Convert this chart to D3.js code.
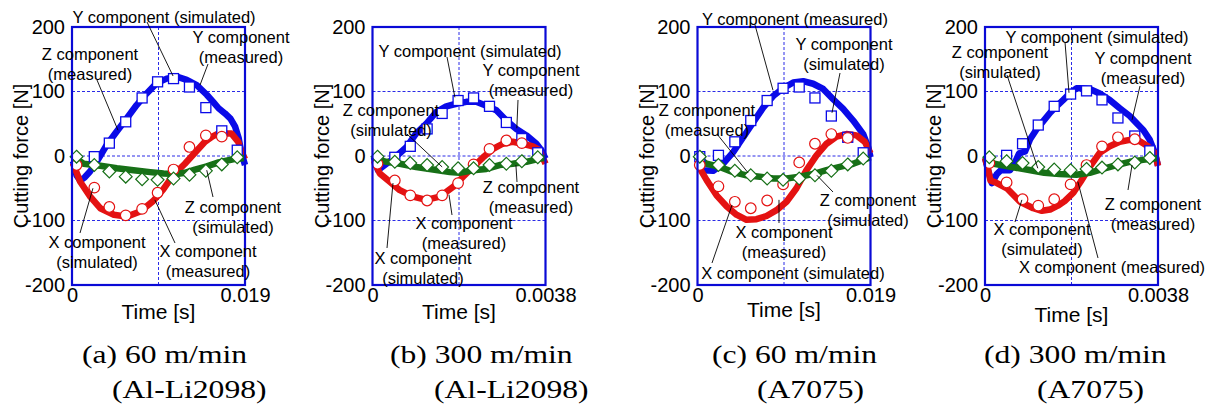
<!DOCTYPE html>
<html>
<head>
<meta charset="utf-8">
<script src="https://cdn.jsdelivr.net/npm/d3@7"></script>
<style>
  html, body { margin: 0; padding: 0; background: #fff; }
  svg { display: block; }
</style>
</head>
<body>
<svg id="chart" width="1211" height="406"></svg>
<script>
// ---------- data ----------
const periodsMs = [19, 3.8, 19, 3.8];
const xTickLabels = [["0", "0.019"], ["0", "0.0038"], ["0", "0.019"], ["0", "0.0038"]];
const yTickValues = [-200, -100, 0, 100, 200];
const yGridValues = [-100, 0, 100];
const captionLine1 = ["(a) 60 m/min", "(b) 300 m/min", "(c) 60 m/min", "(d) 300 m/min"];
const captionLine2 = ["(Al-Li2098)", "(Al-Li2098)", "(A7075)", "(A7075)"];

// simulated forces [N] at sample times [ms]
const simTimeA = [0.5, 2.45, 4.1, 5.9, 7.7, 9.4, 11.15, 12.9, 14.7, 16.45, 18.15];
const simYA = [null, -1, 20, 53, 90, 115, 120, 107, 75, 39, 9];
const simXA = [-14, -49, -79, -92, -82, -57, -21, 14, 32, 30, null];
const simZA = [-1, -14, -24, -32, -36, -37, -35, -29, -23, -13, -2];

const simTimeB = [0.11, 0.49, 0.83, 1.2, 1.53, 1.88, 2.22, 2.57, 2.94, 3.28, 3.63];
const simYB = [null, -2, 15, 42, 66, 86, 90, 77, 52, 27, 5];
const simXB = [-12, -38, -61, -69, -61, -42, -13, 11, 24, 20, null];
const simZB = [-1, -9, -11, -14, -17, -19, -19, -14, -12, -8, -2];

const simTimeC = [0.25, 2.3, 4.1, 5.85, 7.65, 9.4, 11.17, 12.9, 14.7, 16.5, 18.2];
const simYC = [-1, 1, 22, 55, 86, 105, 107, 90, 62, 29, 5];
const simXC = [-14, -47, -71, -81, -69, -44, -10, 19, 34, 28, null];
const simZC = [-1, -14, -23, -30, -35, -37, -35, -30, -23, -13, -4];

const simTimeD = [0.095, 0.475, 0.825, 1.17, 1.52, 1.88, 2.23, 2.57, 2.92, 3.29, 3.62];
const simYD = [null, 1, 19, 48, 77, 96, 101, 87, 59, 31, 8];
const simXD = [-11, -41, -67, -77, -67, -44, -14, 15, 29, 26, null];
const simZD = [-2, -8, -11, -17, -21, -22, -20, -18, -13, -10, -3];

// measured forces as [time ms, force N]
const measYA = [[0.11,-8],[0.5,-30],[0.9,-38],[1.4,-33],[1.98,-24],[2.71,-9],[3.81,17],[4.91,38],[6.0,58],[7.1,79],[8.2,97],[9.3,113],[10.4,120],[11.5,123],[12.6,118],[13.7,110],[14.8,95],[15.5,84],[16.1,74],[16.8,66],[17.4,58],[17.9,46],[18.3,28],[18.6,5],[19.0,-14]];
const measXA = [[0.11,-11],[0.9,-40],[2.0,-63],[3.1,-81],[4.6,-91],[6.0,-94],[7.5,-86],[8.9,-70],[10.0,-52],[11.1,-30],[12.4,-12],[13.5,5],[14.6,22],[15.4,30],[16.1,35],[17.5,35],[18.26,22],[18.6,7],[19.0,-5]];
const measZA = [[0.11,-1],[1.28,-12],[3.11,-15],[4.93,-19],[6.76,-22],[8.59,-25],[10.05,-27],[11.51,-28],[12.4,-26],[13.5,-21],[14.8,-16],[16.1,-10],[17.7,-5],[19.0,-3]];

const measYB = [[0.03,-2],[0.12,-22],[0.31,-12],[0.53,0],[0.75,14],[0.96,35],[1.18,50],[1.40,68],[1.62,77],[1.84,81],[2.06,84],[2.28,84],[2.50,78],[2.72,71],[2.94,55],[3.16,42],[3.38,32],[3.60,19],[3.71,9],[3.80,-4]];
const measXB = [[0.03,-7],[0.16,-27],[0.38,-40],[0.60,-53],[0.89,-63],[1.18,-68],[1.48,-63],[1.77,-48],[1.99,-32],[2.21,-17],[2.43,-2],[2.65,11],[2.86,19],[3.08,22],[3.30,19],[3.52,15],[3.67,9],[3.80,-12]];
const measZB = [[0.03,-4],[0.31,-9],[0.60,-12],[0.96,-17],[1.33,-21],[1.70,-25],[1.91,-26],[2.21,-22],[2.50,-20],[2.79,-14],[3.08,-12],[3.38,-9],[3.67,-4],[3.80,-3]];

const measYC = [[0.15,-12],[0.62,-22],[1.72,-23],[2.82,-12],[3.92,6],[5.02,29],[6.11,52],[7.21,75],[8.31,93],[9.41,105],[10.51,114],[11.61,116],[12.70,112],[13.80,104],[14.90,88],[16.00,73],[17.10,55],[18.20,34],[18.74,14],[19.0,-2]];
const measXC = [[0.15,-17],[0.99,-37],[2.09,-61],[3.19,-78],[4.28,-91],[5.38,-99],[6.48,-98],[7.58,-93],[8.68,-84],[9.78,-71],[10.87,-50],[11.97,-22],[13.07,1],[14.17,19],[15.27,30],[16.36,34],[17.46,32],[18.38,22],[19.0,4]];
const measZC = [[0.15,-4],[0.99,-12],[2.45,-17],[3.92,-25],[5.38,-30],[6.85,-32],[8.31,-35],[9.78,-35],[11.24,-32],[12.70,-28],[14.17,-22],[15.63,-17],[17.10,-12],[18.20,-6],[19.0,-2]];

const measYD = [[0,-3],[0.06,-20],[0.15,-42],[0.26,-28],[0.35,-22],[0.55,-22],[0.66,-10],[0.75,4],[0.88,7],[0.99,26],[1.13,41],[1.28,54],[1.43,67],[1.57,77],[1.72,87],[1.86,97],[2.01,105],[2.16,105],[2.30,104],[2.52,97],[2.74,87],[2.96,74],[3.18,62],[3.30,53],[3.48,40],[3.62,25],[3.73,5],[3.80,-15]];
const measXD = [[0,-3],[0.05,-15],[0.12,-38],[0.26,-42],[0.48,-50],[0.62,-60],[0.77,-71],[1.06,-81],[1.25,-85],[1.43,-83],[1.60,-77],[1.75,-70],[1.94,-57],[2.10,-40],[2.30,-17],[2.52,5],[2.74,15],[2.96,22],[3.18,25],[3.40,23],[3.58,15],[3.73,5],[3.80,-15]];
const measZD = [[0,-2],[0.2,-12],[0.5,-16],[0.91,-21],[1.3,-26],[1.64,-28],[2.01,-29],[2.3,-26],[2.59,-20],[2.89,-14],[3.18,-9],[3.47,-6],[3.80,-3]];

// ---------- layout ----------
const W = 1211, H = 406;
const panelLeft = [72, 372.5, 697.5, 985];
const boxTop = 27, boxW = 173, boxH = 258;
const timeLabelY = [319, 319, 317, 322];
const captionX1 = [82, 390, 712, 984];
const captionX2 = [112, 434, 757, 1037];

const BLUE = "#0a0ae8", RED = "#e41212", GREEN = "#177017", FRAME = "#0a0ad6", GRID = "#2b2be6";
const SANS = "'Liberation Sans', Arial, sans-serif";
const SERIF = "'Liberation Serif', 'Times New Roman', serif";

// callouts: text centre (px from panel corner), leader start (px), leader tip (ms, N)
const callouts = [
  [
    { lines: ["Y component (simulated)"], tx: 92, ty: -10, lx: 75, ly: -5, t: 11.1, v: 124 },
    { lines: ["Y component", "(measured)"], tx: 169, ty: 10, lx: 136, ly: 37, t: 14.06, v: 110 },
    { lines: ["Z component", "(measured)"], tx: 18, ty: 27, lx: 25, ly: 53, t: 5.05, v: 40 },
    { lines: ["Z component", "(simulated)"], tx: 161, ty: 180, lx: 141, ly: 170, t: 14.8, v: -22 },
    { lines: ["X component", "(simulated)"], tx: 25, ty: 215, lx: 8, ly: 206, t: 2.3, v: -50 },
    { lines: ["X component", "(measured)"], tx: 136, ty: 224, lx: 103, ly: 216, t: 9.1, v: -68 }
  ],
  [
    { lines: ["Y component (simulated)"], tx: 97.5, ty: 24, lx: 74.5, ly: 30, t: 1.81, v: 91 },
    { lines: ["Y component", "(measured)"], tx: 158.5, ty: 43, lx: 145.5, ly: 73, t: 3.17, v: 43 },
    { lines: ["Z component", "(simulated)"], tx: 18.5, ty: 83, lx: 34.5, ly: 107, t: 1.53, v: -17 },
    { lines: ["Z component", "(measured)"], tx: 158.5, ty: 160, lx: 144.5, ly: 155, t: 3.15, v: -14 },
    { lines: ["X component", "(measured)"], tx: 91.5, ty: 196, lx: 79.5, ly: 188, t: 1.68, v: -60 },
    { lines: ["X component", "(simulated)"], tx: 50.5, ty: 231, lx: 14.5, ly: 221, t: 0.45, v: -42 }
  ],
  [
    { lines: ["Y component (measured)"], tx: 97.5, ty: -8, lx: 57.5, ly: -2, t: 8.29, v: 102 },
    { lines: ["Y component", "(simulated)"], tx: 146.5, ty: 17, lx: 142.5, ly: 46, t: 14.77, v: 67 },
    { lines: ["Z component", "(measured)"], tx: 9.5, ty: 83, lx: 19.5, ly: 107, t: 5.55, v: -26 },
    { lines: ["Z component", "(simulated)"], tx: 170.5, ty: 173, lx: 135.5, ly: 165, t: 13.12, v: -30 },
    { lines: ["X component", "(measured)"], tx: 86.5, ty: 205, lx: 81.5, ly: 196, t: 8.95, v: -68 },
    { lines: ["X component (simulated)"], tx: 95.5, ty: 246, lx: 14.5, ly: 236, t: 3.79, v: -76 }
  ],
  [
    { lines: ["Y component (simulated)"], tx: 112, ty: 10, lx: 80, ly: 15, t: 1.845, v: 98 },
    { lines: ["Y component", "(measured)"], tx: 158, ty: 31, lx: 155, ly: 59, t: 3.23, v: 56 },
    { lines: ["Z component", "(simulated)"], tx: 15, ty: 25, lx: 22, ly: 48, t: 1.16, v: -19 },
    { lines: ["Z component", "(measured)"], tx: 168, ty: 177, lx: 143, ly: 163, t: 3.23, v: -14 },
    { lines: ["X component", "(simulated)"], tx: 57, ty: 202, lx: 30, ly: 195, t: 0.81, v: -68 },
    { lines: ["X component (measured)"], tx: 127, ty: 240, lx: 113, ly: 231, t: 2.04, v: -40 }
  ]
];

const panels = [
  { simTime: simTimeA, simY: simYA, simX: simXA, simZ: simZA, measY: measYA, measX: measXA, measZ: measZA },
  { simTime: simTimeB, simY: simYB, simX: simXB, simZ: simZB, measY: measYB, measX: measXB, measZ: measZB },
  { simTime: simTimeC, simY: simYC, simX: simXC, simZ: simZC, measY: measYC, measX: measXC, measZ: measZC },
  { simTime: simTimeD, simY: simYD, simX: simXD, simZ: simZD, measY: measYD, measX: measXD, measZ: measZD }
];

// ---------- drawing ----------
const svg = d3.select("#chart").attr("width", W).attr("height", H);
svg.append("rect").attr("width", W).attr("height", H).attr("fill", "#fff");

panels.forEach((p, i) => {
  const T = periodsMs[i];
  const x = d3.scaleLinear().domain([0, T]).range([0, boxW]);
  const y = d3.scaleLinear().domain([-200, 200]).range([boxH, 0]);
  const g = svg.append("g").attr("transform", `translate(${panelLeft[i]},${boxTop})`);

  // dotted grid
  g.selectAll(".hgrid").data(yGridValues).join("line")
    .attr("x1", 0).attr("x2", boxW)
    .attr("y1", d => y(d)).attr("y2", d => y(d))
    .attr("stroke", GRID).attr("stroke-width", 1).attr("stroke-dasharray", "3,2");
  g.selectAll(".vgrid").data([T / 2]).join("line")
    .attr("x1", d => x(d)).attr("x2", d => x(d))
    .attr("y1", 0).attr("y2", boxH)
    .attr("stroke", GRID).attr("stroke-width", 1).attr("stroke-dasharray", "3,2");

  // measured traces (thick)
  const line = d3.line().x(d => x(d[0])).y(d => y(d[1])).curve(d3.curveLinear);
  [[p.measY, BLUE], [p.measX, RED], [p.measZ, GREEN]].forEach(([data, col]) => {
    g.append("path").datum(data)
      .attr("d", line)
      .attr("fill", "none").attr("stroke", col)
      .attr("stroke-width", 6.5).attr("stroke-linejoin", "round").attr("stroke-linecap", "butt");
  });

  // simulated markers
  const pts = (vals) => p.simTime.map((t, k) => ({ t, v: vals[k] })).filter(d => d.v !== null);
  g.selectAll(".sq").data(pts(p.simY)).join("rect")
    .attr("x", d => x(d.t) - 5).attr("y", d => y(d.v) - 5)
    .attr("width", 10).attr("height", 10)
    .attr("fill", "#fff").attr("stroke", BLUE).attr("stroke-width", 1.3);
  g.selectAll(".ci").data(pts(p.simX)).join("circle")
    .attr("cx", d => x(d.t)).attr("cy", d => y(d.v)).attr("r", 5.3)
    .attr("fill", "#fff").attr("stroke", RED).attr("stroke-width", 1.2);
  g.selectAll(".di").data(pts(p.simZ)).join("path")
    .attr("d", d => {
      const cx = x(d.t), cy = y(d.v), r = 6.4;
      return `M${cx},${cy - r}L${cx + r},${cy}L${cx},${cy + r}L${cx - r},${cy}Z`;
    })
    .attr("fill", "#fff").attr("stroke", GREEN).attr("stroke-width", 1.2);

  // frame
  g.append("rect").attr("x", 0).attr("y", 0).attr("width", boxW).attr("height", boxH)
    .attr("fill", "none").attr("stroke", FRAME).attr("stroke-width", 2.2);

  // axes
  const yAxis = d3.axisLeft(y).tickValues(yTickValues).tickSize(0).tickPadding(7)
    .tickFormat(d => String(d));
  const ya = g.append("g").call(yAxis);
  ya.select(".domain").remove();
  ya.selectAll("text").attr("font-family", SANS).attr("font-size", 20).attr("fill", "#000");

  const xAxis = d3.axisBottom(x).tickValues([0, T]).tickSize(0).tickPadding(3)
    .tickFormat((d, k) => xTickLabels[i][k]);
  const xa = g.append("g").attr("transform", `translate(0,${boxH})`).call(xAxis);
  xa.select(".domain").remove();
  xa.selectAll("text").attr("font-family", SANS).attr("font-size", 20).attr("fill", "#000");

  // axis titles
  g.append("text")
    .attr("transform", `translate(${-51},${boxH / 2}) rotate(-90)`)
    .attr("text-anchor", "middle").attr("dy", "0.35em")
    .attr("font-family", SANS).attr("font-size", 20).attr("fill", "#000")
    .text("Cutting force [N]");
  g.append("text")
    .attr("x", boxW / 2).attr("y", timeLabelY[i] - boxTop)
    .attr("text-anchor", "middle")
    .attr("font-family", SANS).attr("font-size", 21).attr("fill", "#000")
    .text("Time [s]");

  // callouts
  callouts[i].forEach(c => {
    g.append("line")
      .attr("x1", c.lx).attr("y1", c.ly)
      .attr("x2", x(c.t)).attr("y2", y(c.v))
      .attr("stroke", "#000").attr("stroke-width", 0.9);
    c.lines.forEach((s, k) => {
      g.append("text")
        .attr("x", c.tx).attr("y", c.ty + k * 20).attr("dy", "0.35em")
        .attr("text-anchor", "middle")
        .attr("font-family", SANS).attr("font-size", 16.5).attr("fill", "#000")
        .text(s);
    });
  });

  // caption
  svg.append("text")
    .attr("transform", `translate(${captionX1[i]},363) scale(1.24,1)`)
    .attr("font-family", SERIF).attr("font-size", 25.5).attr("fill", "#000")
    .text(captionLine1[i]);
  svg.append("text")
    .attr("transform", `translate(${captionX2[i]},398) scale(1.24,1)`)
    .attr("font-family", SERIF).attr("font-size", 25.5).attr("fill", "#000")
    .text(captionLine2[i]);
});
</script>
</body>
</html>
